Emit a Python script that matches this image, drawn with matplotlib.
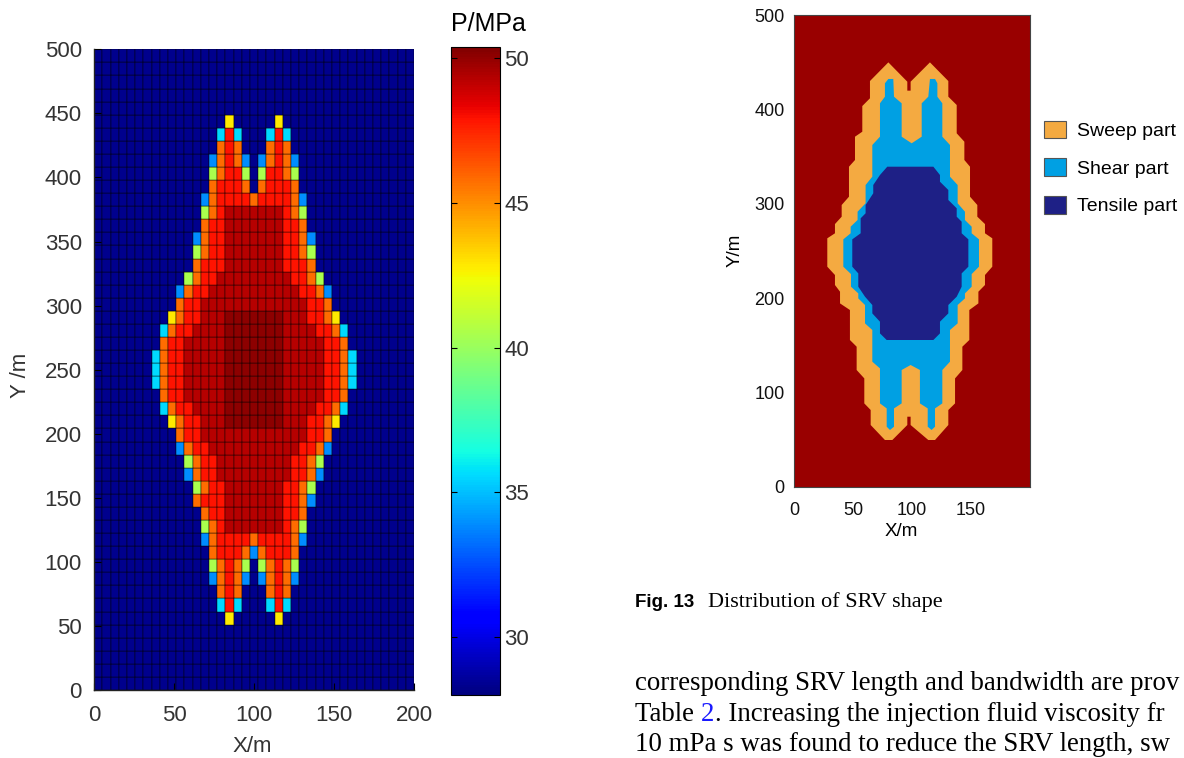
import numpy as np
import matplotlib
matplotlib.use("Agg")
import matplotlib.pyplot as plt
from matplotlib.patches import Patch

plt.rcParams['font.family'] = ['Liberation Sans', 'DejaVu Sans']

# ---------------- left panel: pressure field ----------------
n_cols = 39
n_rows = 49
x_len = 200
y_len = 500

# colour code of a cell -> pressure (MPa), read against the colour bar
level_codes = ['.', 'b', 'c', 'g', 'y', 'o', 'r', 'R', 'D']
level_mpa = [28.3, 33.9, 35.6, 40.5, 42.8, 45.8, 47.9, 49.3, 50.1]

# (row from bottom, first column, cells); every other cell is background
srv_rows = [
    (43, 16, "y.....y"),
    (42, 15, "crc...crc"),
    (41, 15, "oro...oro"),
    (40, 14, "borob.borob"),
    (39, 14, "gorrg.grrog"),
    (38, 14, "orrro.orrro"),
    (37, 13, "borrrrorrrrob"),
    (36, 13, "gorRRRRRRRrog"),
    (35, 13, "orrRRRRRRRrro"),
    (34, 12, "borrRRRRRRRrrob"),
    (33, 12, "gorrRRRRRRRrrog"),
    (32, 12, "orrrRRRRRRRrrro"),
    (31, 11, "gorrRRRRRRRRRrrog"),
    (30, 10, "borrRRRRRRRRRRRrrob"),
    (29, 10, "orrRRRRRRRRRRRRRrro"),
    (28, 9, "yorrRRRDDDDDDDRRRrroy"),
    (27, 8, "corrRRRRDDDDDDDRRRRrroc"),
    (26, 8, "orrRRRRRDDDDDDDRRRRRrro"),
    (25, 7, "corrRRRRRDDDDDDDRRRRRrroc"),
    (24, 7, "corrRRRRRDDDDDDDRRRRRrroc"),
    (23, 7, "corrRRRRRDDDDDDDRRRRRrroc"),
    (22, 8, "orrRRRRRDDDDDDDRRRRRrro"),
    (21, 8, "corrRRRRDDDDDDDRRRRrroc"),
    (20, 9, "yorrRRRDDDDDDDRRRrroy"),
    (19, 10, "orrRRRRRRRRRRRRRrro"),
    (18, 10, "borrRRRRRRRRRRRrrob"),
    (17, 11, "gorrRRRRRRRRRrrog"),
    (16, 11, "borrRRRRRRRRRrrob"),
    (15, 12, "gorrRRRRRRRrrog"),
    (14, 12, "orrrRRRRRRRrrob"),
    (13, 13, "orrRRRRRRRrro"),
    (12, 13, "gorRRRRRRRrog"),
    (11, 13, "borrrrorrrrob"),
    (10, 14, "orrroborrro"),
    (9, 14, "gorog.gorog"),
    (8, 14, "borob.borob"),
    (7, 15, "oro...oro"),
    (6, 15, "crc...crc"),
    (5, 16, "y.....y"),
]

p_min = 28.0
p_max = 50.4
cbar_ticks = [30, 35, 40, 45, 50]
left_xticks = [0, 50, 100, 150, 200]
left_yticks = [0, 50, 100, 150, 200, 250, 300, 350, 400, 450, 500]

# ---------------- right panel: SRV outlines (m) ----------------
sweep_x = [79.8, 95.9, 95.9, 98.7, 98.7, 115.1, 130.7, 130.7, 137.8, 137.8, 144.3, 144.3,
           149.1, 149.1, 155.3, 155.3, 161.8, 161.8, 168.0, 168.0, 161.8, 161.8, 156.2, 156.2,
           148.5, 148.5, 142.6, 142.6, 136.4, 136.4, 130.7, 130.7, 119.4, 113.7, 98.7, 98.7,
           95.9, 95.9, 83.2, 76.9, 64.8, 64.8, 59.4, 59.4, 52.9, 52.9, 47.2, 47.2,
           38.8, 38.8, 34.5, 34.5, 28.0, 28.0, 34.5, 34.5, 40.2, 40.2, 46.4, 46.4,
           51.5, 51.5, 57.7, 57.7, 64.2, 64.2]
sweep_y = [449.8, 429.3, 419.8, 419.8, 429.3, 449.8, 430.0, 413.4, 404.6, 374.6, 365.7, 346.3,
           339.2, 307.4, 298.6, 286.2, 278.4, 268.6, 263.3, 233.2, 224.4, 213.8, 206.7, 194.3,
           187.3, 155.5, 148.4, 123.7, 114.8, 88.3, 81.3, 65.4, 49.5, 49.5, 65.4, 74.2,
           74.2, 65.4, 49.5, 49.5, 65.4, 81.3, 88.3, 114.8, 123.7, 148.4, 155.5, 187.3,
           194.3, 206.7, 213.8, 224.4, 233.2, 263.3, 268.6, 278.4, 286.2, 298.6, 307.4, 339.2,
           346.3, 371.0, 376.3, 403.5, 411.7, 430.0]

shear_x = [79.8, 84.0, 84.6, 91.1, 91.1, 99.6, 108.1, 108.1, 113.7, 115.1, 119.4, 121.4,
           121.4, 125.6, 125.6, 132.1, 132.1, 138.6, 138.6, 144.8, 144.8, 150.5, 150.5, 156.7,
           156.7, 150.5, 150.5, 144.8, 144.8, 138.6, 138.6, 132.1, 132.1, 125.6, 125.6, 119.4,
           119.4, 116.5, 113.2, 113.2, 106.6, 106.6, 98.7, 91.1, 91.1, 84.6, 84.6, 81.2,
           78.4, 78.4, 72.7, 72.7, 66.2, 66.2, 60.0, 60.0, 54.3, 54.3, 48.1, 48.1,
           41.6, 41.6, 47.8, 47.8, 53.7, 53.7, 60.5, 60.5, 66.2, 66.2, 72.7, 72.7,
           76.9, 76.9]
shear_y = [432.2, 432.2, 413.4, 406.4, 371.0, 364.0, 371.0, 406.4, 413.4, 432.2, 432.2, 427.6,
           413.4, 406.4, 371.0, 362.2, 328.6, 319.8, 300.4, 291.5, 282.7, 275.6, 268.6, 262.2,
           233.2, 225.4, 212.0, 204.9, 199.6, 192.6, 173.1, 166.1, 132.5, 123.7, 88.3, 83.0,
           63.6, 60.1, 63.6, 83.0, 88.3, 123.7, 129.0, 123.7, 88.3, 83.0, 63.6, 60.1,
           63.6, 83.0, 88.3, 125.4, 132.5, 166.1, 173.1, 192.6, 199.6, 204.9, 212.0, 225.4,
           233.2, 262.2, 268.6, 275.6, 282.7, 291.5, 300.4, 319.8, 328.6, 362.2, 371.0, 406.4,
           413.4, 427.6]

tensile_x = [78.9, 118.0, 123.6, 123.6, 130.7, 130.7, 137.8, 137.8, 142.0, 142.0, 147.7, 147.7,
             142.0, 142.0, 137.8, 130.7, 130.7, 123.6, 123.6, 118.0, 78.4, 72.7, 72.7, 66.2,
             66.2, 60.0, 54.3, 54.3, 49.2, 49.2, 56.3, 56.3, 60.5, 60.5, 67.0, 67.0, 72.7]
tensile_y = [339.2, 339.2, 330.4, 323.3, 314.5, 303.9, 295.1, 286.2, 280.9, 268.6, 262.2, 233.2,
             226.1, 212.0, 201.4, 192.6, 183.7, 174.9, 162.5, 155.5, 155.5, 162.5, 174.9, 183.7,
             192.6, 201.4, 212.0, 226.1, 233.2, 262.2, 268.6, 284.5, 289.8, 298.6, 311.0, 319.8,
             330.4]

srv_names = ['Sweep part', 'Shear part', 'Tensile part']
srv_colors = ['#f4aa41', '#00a0e3', '#1e2086']
rock_color = '#990000'
right_xticks = [0, 50, 100, 150]
right_yticks = [0, 100, 200, 300, 400, 500]

caption_num = 'Fig. 13'
caption_text = 'Distribution of SRV shape'
# body text as far as it shows at the page edge
body_line1 = 'corresponding SRV length and bandwidth are prov'
body_line2 = ['Table ', '2', '. Increasing the injection fluid viscosity fr']
body_line3 = '10 mPa s was found to reduce the SRV length, sw'

# ---------------- figure ----------------
W, H = 1184, 758
fig = plt.figure(figsize=(W / 100, H / 100), dpi=100)


def box(x0, y0, x1, y1):
    # pixel box (top-left origin) -> figure rect
    return [x0 / W, 1 - y1 / H, (x1 - x0) / W, (y1 - y0) / H]


code_to_p = dict(zip(level_codes, level_mpa))
grid = np.full((n_rows, n_cols), code_to_p['.'])
for row, start, cells in srv_rows:
    for j, ch in enumerate(cells):
        grid[row, start + j] = code_to_p[ch]

xe = np.linspace(0, x_len, n_cols + 1)
ye = np.linspace(0, y_len, n_rows + 1)

ax = fig.add_axes(box(94.3, 49.3, 414, 690))
mesh = ax.pcolormesh(xe, ye, grid, cmap='jet', vmin=p_min, vmax=p_max,
                     edgecolors='#000000', linewidth=0.3, antialiased=True)
ax.set_xlim(0, x_len)
ax.set_ylim(0, y_len)
ax.set_xticks(left_xticks)
ax.set_yticks(left_yticks)
ax.spines['top'].set_visible(False)
ax.spines['right'].set_visible(False)
for s in ['left', 'bottom']:
    ax.spines[s].set_linewidth(1.0)
    ax.spines[s].set_color('#222222')
ax.tick_params(direction='in', length=5, width=0.8, labelsize=16,
               labelcolor='#333333', top=False, right=False)
ax.tick_params(axis='x', pad=11)
ax.tick_params(axis='y', pad=9)
fig.text(252 / W, 1 - 746 / H, 'X/m', ha='center', va='center', fontsize=16, color='#333333')
fig.text(20 / W, 1 - 375 / H, 'Y /m', ha='center', va='center', rotation=90,
         fontsize=16, color='#333333')

cax = fig.add_axes(box(451, 46.7, 500, 695))
cb = fig.colorbar(mesh, cax=cax, ticks=cbar_ticks)
cb.outline.set_linewidth(0.8)
cax.tick_params(direction='in', length=4, width=0.8, left=True, right=True,
                labelsize=16, labelcolor='#333333', pad=3)
fig.text(488 / W, 1 - 24 / H, 'P/MPa', ha='center', va='center', fontsize=18)

# right panel
ax2 = fig.add_axes(box(794.3, 15, 1030, 486.7))
ax2.set_facecolor(rock_color)
ax2.fill(sweep_x, sweep_y, color=srv_colors[0], lw=0)
ax2.fill(shear_x, shear_y, color=srv_colors[1], lw=0)
ax2.fill(tensile_x, tensile_y, color=srv_colors[2], lw=0)
ax2.set_xlim(0, x_len)
ax2.set_ylim(0, y_len)
ax2.set_xticks(right_xticks)
ax2.set_yticks(right_yticks)
ax2.tick_params(length=0, labelsize=13, labelcolor='#111111')
ax2.tick_params(axis='x', pad=11)
ax2.tick_params(axis='y', pad=7)
for s in ax2.spines.values():
    s.set_linewidth(0.8)
    s.set_color('#444444')
fig.text(901 / W, 1 - 532 / H, 'X/m', ha='center', va='center', fontsize=13.5)
fig.text(735 / W, 1 - 250 / H, 'Y/m', ha='center', va='center', rotation=90, fontsize=13.5)

handles = [Patch(facecolor=c, edgecolor='#555555', linewidth=0.8) for c in srv_colors]
fig.legend(handles, srv_names, loc='upper left', bbox_to_anchor=(1044 / W, 1 - 120.7 / H),
           frameon=False, borderpad=0, borderaxespad=0, fontsize=14,
           handlelength=1.13, handleheight=1.03, handletextpad=0.57, labelspacing=0.93)

# caption and body text
fig.text(635 / W, 1 - 606.7 / H, caption_num, fontweight='bold', fontsize=13.5, va='baseline')
fig.text(708 / W, 1 - 606.7 / H, caption_text, family='Liberation Serif', fontsize=16,
         va='baseline')

body_size = 19.4
x0 = 635
fig.text(x0 / W, 1 - 690 / H, body_line1, family='Liberation Serif', fontsize=body_size,
         va='baseline')
fig.text(x0 / W, 1 - 751 / H, body_line3, family='Liberation Serif', fontsize=body_size,
         va='baseline')

renderer = fig.canvas.get_renderer()


def text_width(s):
    t = fig.text(0, 0, s, family='Liberation Serif', fontsize=body_size)
    w = t.get_window_extent(renderer).width
    t.remove()
    return w


y2 = 1 - 721 / H
w_head = text_width(body_line2[0] + body_line2[1])
w_num = text_width(body_line2[1])
fig.text(x0 / W, y2, body_line2[0], family='Liberation Serif', fontsize=body_size, va='baseline')
fig.text((x0 + w_head - w_num) / W, y2, body_line2[1], family='Liberation Serif',
         fontsize=body_size, va='baseline', color='#1a1aff')
fig.text((x0 + w_head + 1) / W, y2, body_line2[2], family='Liberation Serif',
         fontsize=body_size, va='baseline')

fig.savefig('out.png', dpi=100)
